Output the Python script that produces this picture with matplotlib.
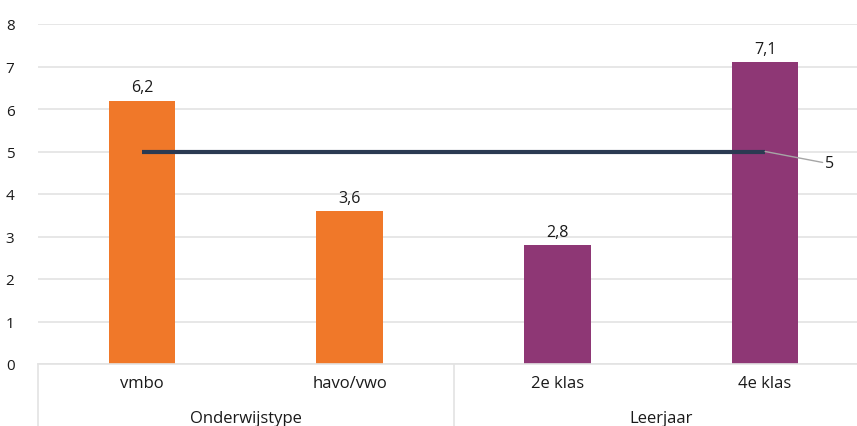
import matplotlib.pyplot as plt
import matplotlib.transforms as mtransforms

# Data
categories = ['vmbo', 'havo/vwo', '2e klas', '4e klas']
groups = ['Onderwijstype', 'Leerjaar']
group_sizes = [2, 2]
values = [6.2, 3.6, 2.8, 7.1]
average = 5
bar_colors = ['#F07829', '#F07829', '#8E3775', '#8E3775']

plt.rcParams['font.family'] = ['Open Sans', 'DejaVu Sans']

fig = plt.figure(figsize=(8.57, 4.27), dpi=100)
ax = fig.add_axes([38 / 857, 1 - 365 / 427, 831 / 857, 340 / 427])

x = list(range(len(categories)))
bars = ax.bar(x, values, width=0.32, color=bar_colors, zorder=2)
for xi, v in zip(x, values):
    ax.text(xi, v + 0.12, f'{v:.1f}'.replace('.', ','), ha='center', va='bottom',
            fontsize=11.5, color='#1a1a1a')

# average line
ax.plot([x[0], x[-1]], [average, average], color='#2B3A52', linewidth=3, zorder=3,
        solid_capstyle='butt')
ax.annotate(str(average), xy=(x[-1], average), xytext=(x[-1] + 0.29, average - 0.27),
            ha='left', va='center', fontsize=11.5, color='#1a1a1a',
            arrowprops=dict(arrowstyle='-', color='#A6A6A6', lw=1,
                            shrinkA=0, shrinkB=0, relpos=(0, 0.5)))

ax.set_xlim(-0.5, len(categories) - 0.5)
ax.set_ylim(0, 8)
ax.set_yticks(range(0, 9))
ax.yaxis.grid(True, color='#E3E3E3', linewidth=1.2)
ax.set_axisbelow(True)
for s in ['top', 'right', 'left']:
    ax.spines[s].set_visible(False)
ax.spines['bottom'].set_color('#E3E3E3')
ax.spines['bottom'].set_linewidth(1.2)
ax.tick_params(axis='y', length=0, pad=17, labelsize=11, labelcolor='#1a1a1a')
ax.set_xticks([])

# two-level category axis
trans = mtransforms.blended_transform_factory(ax.transData, ax.transAxes)
for xi, c in zip(x, categories):
    ax.text(xi, -0.055, c, transform=trans, ha='center', va='center',
            fontsize=12, color='#1a1a1a')
start = 0
bottom = -63 / 340
ax.plot([-0.5, -0.5], [0, bottom], transform=trans, color='#E3E3E3', lw=1.2, clip_on=False)
for g, n in zip(groups, group_sizes):
    ax.text(start + (n - 1) / 2, -0.16, g, transform=trans, ha='center', va='center',
            fontsize=12, color='#1a1a1a')
    start += n
    ax.plot([start - 0.5, start - 0.5], [0, bottom], transform=trans, color='#E3E3E3',
            lw=1.2, clip_on=False)

fig.savefig('out.png', dpi=100)
